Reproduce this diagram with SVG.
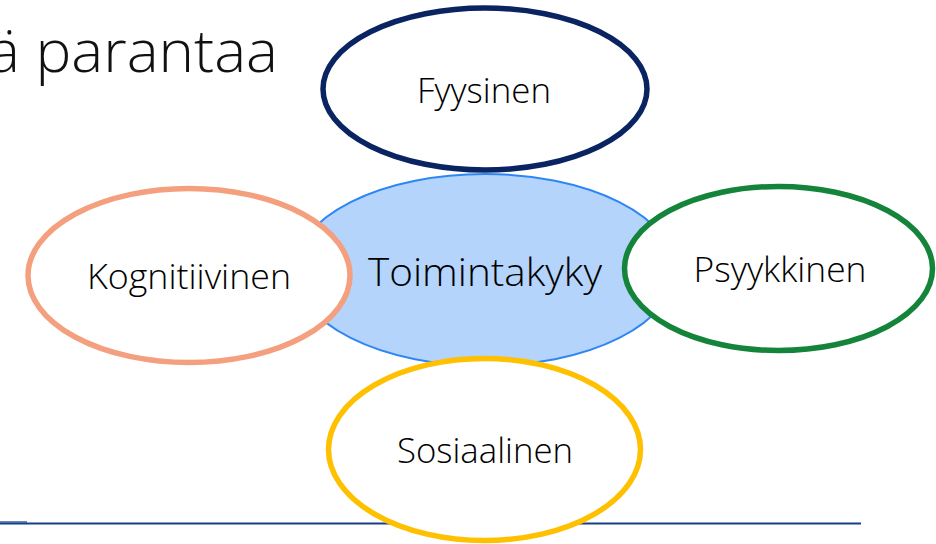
<svg xmlns="http://www.w3.org/2000/svg" width="936" height="544" viewBox="0 0 936 544">
<style>
.lbl{font-family:"Open Sans","Noto Sans","DejaVu Sans",sans-serif;font-weight:300;fill:#000;text-anchor:middle}
.ring{fill:#fff;stroke-width:5.5}
</style>
<rect width="936" height="544" fill="#fff"/>
<text x="278" y="72" font-family="'Open Sans','Noto Sans',sans-serif" font-weight="300" font-size="58" fill="#111" text-anchor="end" textLength="290" lengthAdjust="spacingAndGlyphs">ä parantaa</text>
<g id="connectors">
<line x1="0" y1="523.5" x2="861" y2="523.5" stroke="#173f86" stroke-width="2"/>
<line x1="0" y1="522" x2="27" y2="522" stroke="#2e5fa0" stroke-width="1.5"/>
</g>
<g id="toimintakyky">
<ellipse cx="485" cy="270" rx="190" ry="96" fill="#b4d4fc" stroke="#2e86f5" stroke-width="2"/>
<text class="lbl" x="485" y="286" font-size="39" font-weight="400" textLength="234" lengthAdjust="spacingAndGlyphs">Toimintakyky</text>
</g>
<g id="fyysinen">
<ellipse class="ring" cx="485" cy="89" rx="162" ry="81" stroke="#0a2462"/>
<text class="lbl" x="484" y="103" font-size="34" textLength="134" lengthAdjust="spacingAndGlyphs">Fyysinen</text>
</g>
<g id="kognitiivinen">
<ellipse class="ring" cx="189" cy="275.5" rx="161" ry="87" stroke="#f4a07f"/>
<text class="lbl" x="189" y="289" font-size="34" textLength="204" lengthAdjust="spacingAndGlyphs">Kognitiivinen</text>
</g>
<g id="psyykkinen">
<ellipse class="ring" cx="778.5" cy="268.5" rx="154" ry="82" stroke="#14843a"/>
<text class="lbl" x="780" y="282" font-size="34" textLength="173" lengthAdjust="spacingAndGlyphs">Psyykkinen</text>
</g>
<g id="sosiaalinen">
<ellipse class="ring" cx="484.5" cy="449.5" rx="156" ry="91" stroke="#ffc000"/>
<text class="lbl" x="485" y="463" font-size="34" textLength="176" lengthAdjust="spacingAndGlyphs">Sosiaalinen</text>
</g>
</svg>
